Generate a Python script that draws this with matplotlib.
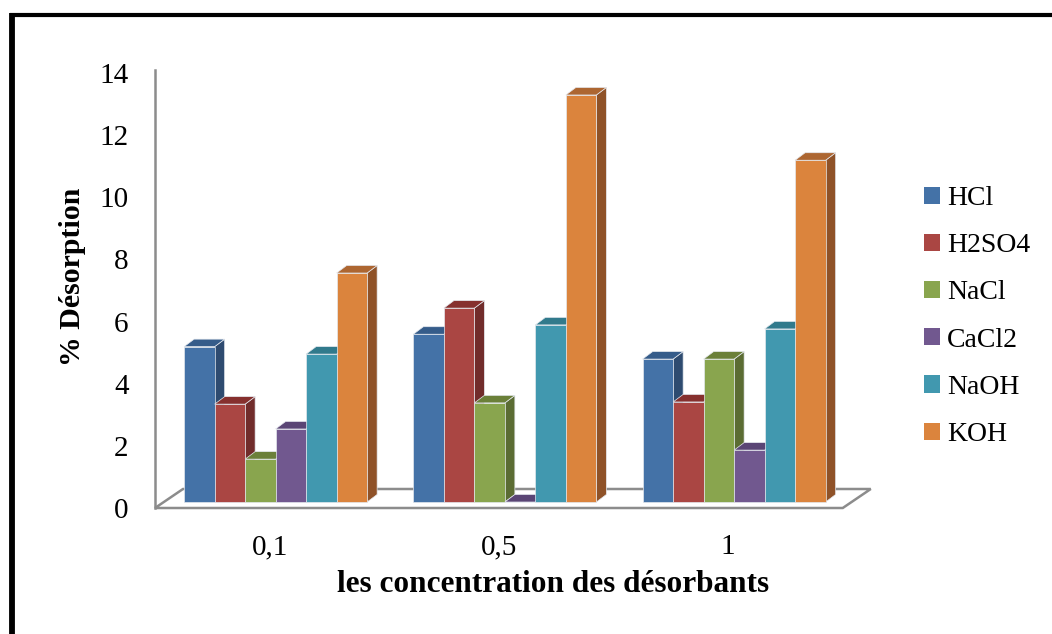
# -*- coding: utf-8 -*-
"""
Desorption (%) vs desorbent concentration - pseudo 3D clustered bars, Excel style.
"""

import matplotlib
matplotlib.use("Agg")
import matplotlib.pyplot as plt
from matplotlib.patches import Polygon, Patch
from matplotlib.lines import Line2D

#%% Data

concentrations = ['0,1', '0,5', '1']
desorbants = ['HCl', 'H2SO4', 'NaCl', 'CaCl2', 'NaOH', 'KOH']

hcl   = [5.00, 5.40, 4.60]
h2so4 = [3.15, 6.24, 3.22]
nacl  = [1.38, 3.19, 4.60]
cacl2 = [2.35, 0.00, 1.67]
naoh  = [4.76, 5.70, 5.57]
koh   = [7.37, 13.10, 11.00]

series = [hcl, h2so4, nacl, cacl2, naoh, koh]

# front / side / top shades for every series
front_cols = ['#4472A7', '#AA4643', '#89A54E', '#71588F', '#4198AF', '#DB843D']
side_cols  = ['#2E4B70', '#712C2B', '#5B6C33', '#4A3A5F', '#2A6473', '#8F5228']
top_cols   = ['#355C8A', '#86302E', '#6B8039', '#5A4575', '#317A8C', '#AD6631']

#%% Figure

plt.rcParams['font.family'] = ['Liberation Serif', 'DejaVu Serif']

W, H = 1052, 634
fig = plt.figure(figsize=(W / 100, H / 100), dpi=100)
ax = fig.add_axes([155 / W, (H - 508) / H, 715 / W, 438 / H])

px_x = 229.25          # pixels per category
px_y = 31.07           # pixels per % unit
ax.set_xlim(-0.5, -0.5 + 715 / px_x)
ax.set_ylim(0, 438 / px_y)

# 3D offsets (in data units)
bar_w = 30.5 / px_x
bar_shift_x = 6 / px_x
bar_base = 6 / px_y
bar_dx = 10 / px_x
bar_dy = 7.5 / px_y
floor_dx = 28 / px_x
floor_dy = 19 / px_y

grey = '#8C8C8C'

# floor
floor = Polygon([(-0.5, 0), (2.5, 0), (2.5 + floor_dx, floor_dy), (-0.5 + floor_dx, floor_dy)],
                closed=True, facecolor='white', edgecolor=grey, lw=1.8, clip_on=False, zorder=1)
ax.add_patch(floor)

# bars, left to right so that each front hides the previous side face
for i in range(len(concentrations)):
    for j, vals in enumerate(series):
        v = vals[i]
        x0 = i + bar_shift_x + (j - 3) * bar_w
        x1 = x0 + bar_w
        y0 = bar_base
        y1 = bar_base + v
        front = [(x0, y0), (x1, y0), (x1, y1), (x0, y1)]
        side = [(x1, y0), (x1 + bar_dx, y0 + bar_dy), (x1 + bar_dx, y1 + bar_dy), (x1, y1)]
        top = [(x0, y1), (x1, y1), (x1 + bar_dx, y1 + bar_dy), (x0 + bar_dx, y1 + bar_dy)]
        z = 2 + i * 10 + j
        for pts, col in [(side, side_cols[j]), (top, top_cols[j]), (front, front_cols[j])]:
            ax.add_patch(Polygon(pts, closed=True, facecolor=col, edgecolor='#E4E8EE',
                                 lw=0.5, clip_on=False, zorder=z))

# axes cosmetics
for s in ['top', 'right', 'bottom']:
    ax.spines[s].set_visible(False)
ax.spines['left'].set_color(grey)
ax.spines['left'].set_linewidth(1.8)
ax.set_yticks(range(0, 15, 2))
ax.set_xticks(range(len(concentrations)))
ax.set_xticklabels(concentrations)
ax.tick_params(axis='y', length=0, pad=19, labelsize=21)
ax.tick_params(axis='x', length=0, pad=19, labelsize=21)
ax.patch.set_alpha(0)

fig.text(553 / W, 1 - 585 / H, 'les concentration des désorbants', ha='center', va='center',
         fontsize=22.5, fontweight='bold')
fig.text(73 / W, 1 - 277 / H, '% Désorption', ha='center', va='center', rotation=90,
         fontsize=21.5, fontweight='bold')

# legend
handles = [Patch(facecolor=c, edgecolor='none') for c in front_cols]
fig.legend(handles, desorbants, loc='upper left', bbox_to_anchor=(924 / W, 1 - 186 / H),
           frameon=False, fontsize=20, handlelength=0.58, handleheight=0.58,
           handletextpad=0.25, labelspacing=0.8, borderpad=0, borderaxespad=0)

# black outer frame (left and top only)
fig.add_artist(Line2D([12 / W, 12 / W], [0, 1 - 13 / H], transform=fig.transFigure,
                      color='black', lw=4.2, solid_capstyle='butt'))
fig.add_artist(Line2D([10 / W, 1], [1 - 15 / H, 1 - 15 / H], transform=fig.transFigure,
                      color='black', lw=3.0, solid_capstyle='butt'))

fig.savefig('out.png', dpi=100)
